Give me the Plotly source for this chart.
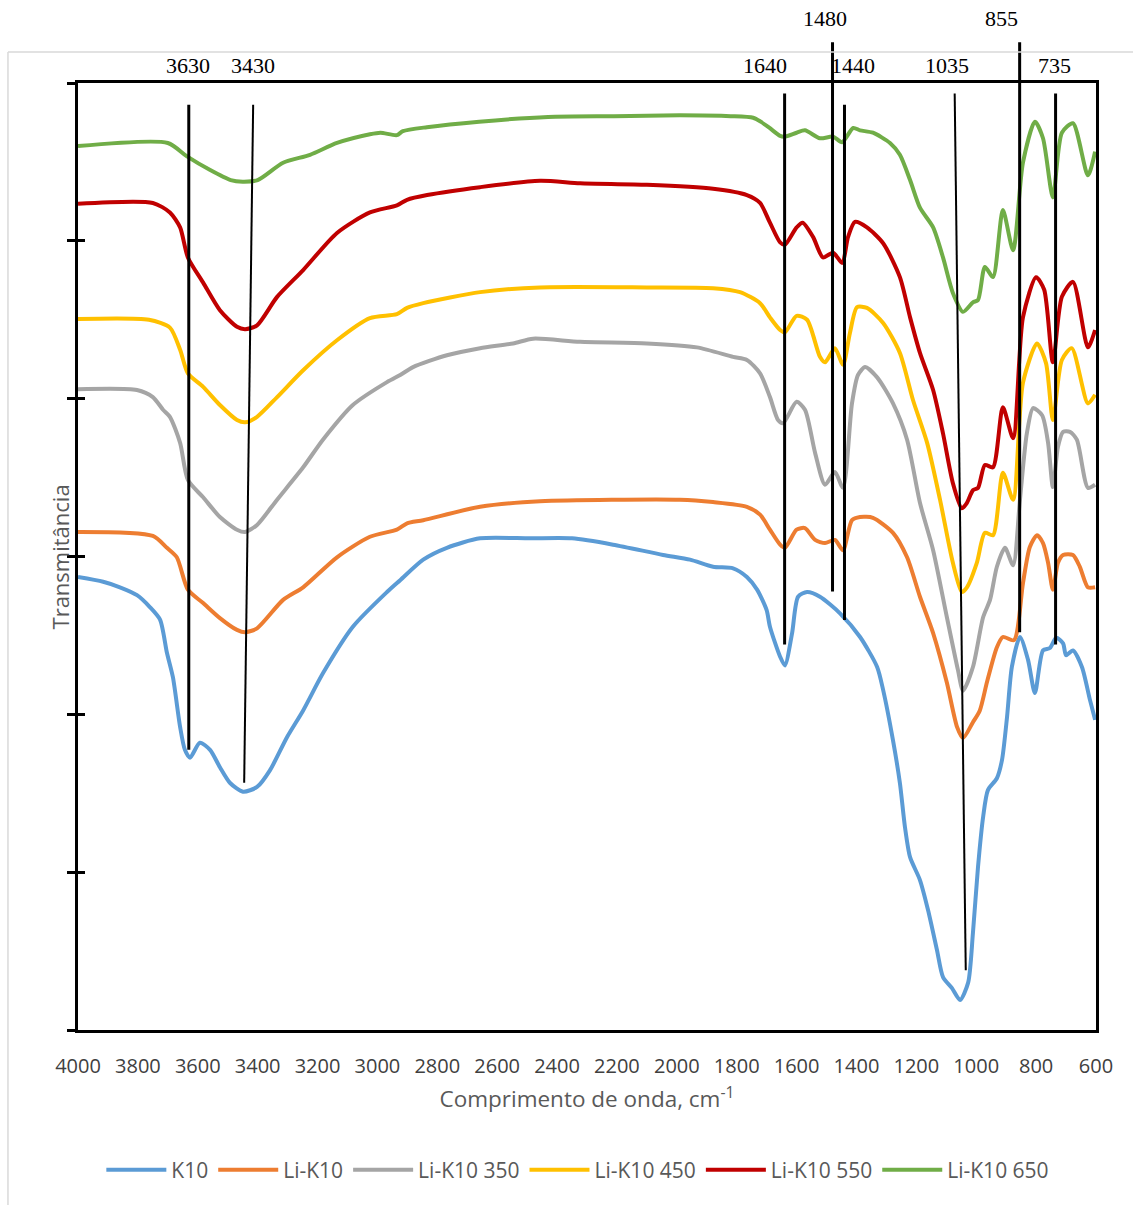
import plotly.graph_objects as go

# FTIR spectra (wavenumber in cm-1, transmittance in arbitrary offset units)
k10_wn = [4000, 3916, 3860, 3803, 3760, 3726, 3703, 3683, 3659, 3643, 3626, 3593, 3559, 3526,
          3492, 3449, 3402, 3359, 3302, 3248, 3182, 3082, 2968, 2924, 2847, 2768, 2657, 2490,
          2350, 2213, 2046, 1956, 1879, 1812, 1766, 1732, 1700, 1689, 1655, 1639, 1615, 1595,
          1565, 1522, 1455, 1388, 1331, 1311, 1278, 1255, 1238, 1221, 1188, 1161, 1131, 1111,
          1081, 1054, 1027, 1011, 994, 977, 961, 931, 914, 897, 881, 854, 827, 804, 777, 754,
          733, 710, 700, 677, 647, 620, 603]
k10_t = [57.4, 56.8, 56.1, 55.1, 53.6, 52.0, 47.8, 44.7, 38.4, 35.5, 34.5, 36.4, 35.5, 33.3,
         31.3, 30.2, 30.8, 32.9, 37.1, 40.5, 45.2, 51.1, 55.5, 57.0, 59.6, 61.1, 62.3, 62.3,
         62.3, 61.5, 60.2, 59.6, 58.7, 58.5, 57.4, 55.8, 53.2, 51.1, 47.3, 46.2, 50.3, 54.9,
         55.5, 54.9, 52.8, 49.8, 46.0, 43.1, 36.7, 31.3, 25.7, 21.9, 19.0, 15.2, 10.1, 6.7,
         5.3, 3.8, 6.0, 12.3, 20.7, 27.0, 30.4, 31.9, 34.2, 39.7, 46.0, 49.8, 46.9, 42.7, 48.1,
         48.4, 49.7, 49.0, 47.5, 48.1, 46.0, 41.8, 39.3]

li_wn = [4000, 3750, 3703, 3670, 3633, 3582, 3526, 3469, 3442, 3402, 3315, 3248, 3135, 3025,
         2935, 2901, 2847, 2657, 2457, 1990, 1879, 1766, 1722, 1689, 1655, 1639, 1600, 1572,
         1538, 1505, 1472, 1445, 1415, 1388, 1345, 1278, 1231, 1188, 1144, 1098, 1064, 1044,
         1011, 988, 964, 931, 911, 874, 844, 821, 797, 777, 760, 744, 727, 710, 677, 654, 627,
         603]
li_t = [63.1, 62.6, 61.1, 59.9, 55.8, 54.1, 52.2, 50.7, 50.4, 50.9, 54.5, 56.1, 59.9, 62.5,
        63.4, 64.2, 64.6, 66.3, 67.0, 67.2, 66.9, 66.3, 65.3, 63.4, 61.5, 61.1, 63.4, 63.6,
        62.1, 61.7, 62.1, 60.8, 64.6, 65.0, 64.9, 63.0, 59.9, 54.9, 50.3, 44.0, 38.4, 37.0,
        39.0, 40.5, 44.1, 48.5, 49.8, 49.4, 56.6, 61.2, 62.7, 61.7, 59.2, 55.8, 59.2, 60.2,
        60.2, 58.7, 56.1, 56.1]

li350_wn = [4000, 3803, 3750, 3716, 3693, 3659, 3633, 3582, 3526, 3469, 3442, 3402, 3335, 3248,
            3182, 3082, 2968, 2924, 2881, 2768, 2657, 2547, 2480, 2323, 2100, 1933, 1812, 1766,
            1722, 1689, 1662, 1645, 1600, 1572, 1538, 1505, 1472, 1445, 1415, 1395, 1371, 1331,
            1278, 1231, 1188, 1144, 1098, 1061, 1044, 1011, 977, 954, 931, 904, 877, 854, 831,
            810, 780, 760, 744, 727, 710, 687, 664, 627, 603]
li350_t = [81.2, 81.1, 80.2, 78.6, 77.7, 74.4, 69.7, 67.5, 65.0, 63.4, 63.1, 64.0, 67.2, 71.3,
           74.8, 79.2, 82.1, 83.0, 84.0, 85.5, 86.4, 87.0, 87.6, 87.2, 87.0, 86.5, 85.3, 84.9,
           83.2, 80.2, 77.3, 76.9, 79.6, 78.6, 73.1, 69.1, 70.7, 68.7, 79.4, 83.0, 84.0, 82.7,
           79.4, 74.8, 66.8, 60.8, 52.3, 45.6, 43.0, 46.0, 52.3, 54.5, 58.7, 61.1, 58.9, 67.2,
           75.6, 78.8, 77.9, 74.4, 68.8, 73.9, 75.8, 75.8, 74.8, 68.7, 69.1]

li450_wn = [4000, 3763, 3693, 3659, 3633, 3582, 3526, 3469, 3442, 3402, 3335, 3248, 3135, 3025,
            2935, 2901, 2847, 2657, 2457, 2100, 1879, 1789, 1722, 1689, 1655, 1639, 1600, 1565,
            1522, 1505, 1472, 1445, 1422, 1398, 1365, 1311, 1255, 1211, 1164, 1121, 1078, 1048,
            1031, 998, 971, 944, 911, 877, 844, 797, 767, 744, 714, 681, 627, 603]
li450_t = [90.1, 90.0, 89.0, 86.2, 83.2, 81.5, 79.2, 77.3, 77.0, 77.7, 80.2, 83.6, 87.4, 90.2,
           90.7, 91.5, 92.1, 93.5, 94.1, 94.1, 94.0, 93.5, 92.1, 90.3, 88.7, 88.4, 90.5, 90.0,
           85.3, 84.6, 86.4, 84.3, 88.3, 91.6, 91.5, 89.6, 85.8, 79.8, 74.4, 67.2, 59.2, 55.5,
           56.1, 59.2, 63.0, 62.7, 70.6, 67.2, 82.0, 87.0, 84.5, 77.3, 84.9, 86.4, 79.4, 80.5]

li550_wn = [4000, 3750, 3693, 3659, 3633, 3582, 3526, 3469, 3442, 3402, 3335, 3248, 3135, 3025,
            2935, 2901, 2834, 2657, 2457, 2323, 2100, 1879, 1766, 1722, 1689, 1655, 1639, 1600,
            1580, 1545, 1512, 1478, 1448, 1428, 1405, 1365, 1311, 1255, 1221, 1188, 1144, 1111,
            1078, 1048, 1031, 1011, 994, 971, 944, 911, 877, 844, 800, 773, 744, 714, 677, 627,
            603]
li550_t = [104.7, 104.8, 103.6, 101.7, 97.9, 94.7, 91.2, 89.1, 88.8, 89.3, 92.9, 96.3, 101.0,
           103.6, 104.5, 105.2, 105.8, 106.8, 107.6, 107.3, 107.1, 106.6, 105.8, 104.8, 102.3,
           99.8, 99.5, 101.7, 102.3, 100.5, 97.9, 98.5, 97.2, 100.5, 102.4, 101.7, 99.7, 95.4,
           90.3, 85.8, 81.1, 75.6, 69.3, 66.1, 66.8, 68.4, 68.7, 71.6, 71.3, 78.9, 75.0, 90.3,
           95.4, 93.8, 84.6, 92.9, 94.8, 86.5, 88.7]

li650_wn = [4000, 3700, 3636, 3560, 3490, 3450, 3400, 3315, 3225, 3135, 3025, 2990, 2935, 2915,
            2835, 2660, 2430, 2210, 1990, 1820, 1745, 1720, 1690, 1655, 1640, 1600, 1572, 1522,
            1478, 1448, 1411, 1388, 1345, 1288, 1255, 1221, 1188, 1144, 1111, 1078, 1044, 1011,
            994, 971, 944, 911, 877, 844, 804, 777, 744, 714, 677, 627, 603]
li650_t = [112.0, 112.4, 110.7, 109.0, 107.7, 107.5, 107.7, 109.9, 110.9, 112.4, 113.5, 113.7,
           113.4, 113.9, 114.4, 115.1, 115.7, 115.8, 115.9, 115.8, 115.6, 115.1, 114.3, 113.3,
           113.2, 113.7, 114.0, 113.0, 113.2, 112.5, 114.3, 114.0, 113.7, 112.4, 110.9, 107.7,
           104.2, 101.7, 97.9, 93.4, 91.0, 92.2, 92.5, 96.7, 95.4, 103.9, 98.8, 109.9, 115.1,
           113.0, 105.5, 113.7, 114.9, 108.3, 111.3]

series_names = ["K10", "Li-K10", "Li-K10 350", "Li-K10 450", "Li-K10 550", "Li-K10 650"]
series_wn = [k10_wn, li_wn, li350_wn, li450_wn, li550_wn, li650_wn]
series_t = [k10_t, li_t, li350_t, li450_t, li550_t, li650_t]
series_colors = ["#5B9BD5", "#ED7D31", "#A5A5A5", "#FFC000", "#C00000", "#70AD47"]

# Band assignments marked on the spectra
band_labels = [3630, 3430, 1640, 1480, 1440, 1035, 855, 735]

fig = go.Figure()
for name, wn, t, col in zip(series_names, series_wn, series_t, series_colors):
    fig.add_trace(go.Scatter(
        x=wn, y=t, name=name, mode="lines",
        line=dict(color=col, width=4, shape="spline", smoothing=0.7),
    ))

# invisible trace on the overlaid axis so the inner tick marks get drawn
fig.add_trace(go.Scatter(x=[4000], y=[0], yaxis="y2", mode="markers",
                         marker=dict(opacity=0), showlegend=False, hoverinfo="skip"))

# band marker lines: (label, x at top, x at bottom, paper y top, paper y bottom, width)
band_lines = [
    (3630, 3630, 3630, 0.977, 0.296, 3),
    (3430, 3415, 3445, 0.977, 0.261, 2),
    (1640, 1640, 1640, 0.989, 0.407, 3),
    (1480, 1480, 1480, 1.043, 0.463, 3),
    (1440, 1440, 1440, 0.977, 0.433, 3),
    (1035, 1072, 1035, 0.989, 0.063, 2),
    (855, 855, 855, 1.043, 0.420, 3),
    (735, 735, 735, 0.989, 0.407, 3),
]
shapes = []
for lab, xt, xb, yt, yb, w in band_lines:
    shapes.append(dict(type="line", xref="x", yref="paper", x0=xt, x1=xb, y0=yt, y1=yb,
                       line=dict(color="black", width=w), layer="above"))

# light frame around the chart area
shapes.append(dict(type="line", xref="paper", yref="paper", x0=-0.0688, x1=1.06,
                   y0=1.0327, y1=1.0327, line=dict(color="#d9d9d9", width=1.5)))
shapes.append(dict(type="line", xref="paper", yref="paper", x0=-0.0688, x1=-0.0688,
                   y0=1.0327, y1=-0.2, line=dict(color="#d9d9d9", width=1.5)))

# label text positions (x in cm-1, y in paper units)
label_pos = {3630: (3632, 1.018), 3430: (3416, 1.018), 1640: (1705, 1.018),
             1480: (1505, 1.068), 1440: (1412, 1.018), 1035: (1098, 1.018),
             855: (917, 1.068), 735: (737, 1.018)}
annotations = []
for lab in band_labels:
    xx, yy = label_pos[lab]
    annotations.append(dict(x=xx, y=yy, xref="x", yref="paper", text=str(lab),
                            showarrow=False, xanchor="center", yanchor="middle",
                            font=dict(family="Liberation Serif", size=22, color="black")))

# vertical axis title
annotations.append(dict(x=-0.0177, y=0.5, xref="paper", yref="paper", text="Transmitância",
                        showarrow=False, textangle=-90, xanchor="center", yanchor="middle",
                        font=dict(family="Open Sans", size=22, color="#595959")))

fig.update_layout(
    width=1133, height=1205,
    margin=dict(l=78, r=37, t=83, b=175),
    paper_bgcolor="white", plot_bgcolor="white",
    font=dict(family="Open Sans", color="#595959"),
    showlegend=True,
    legend=dict(orientation="h", x=0.491, xanchor="center", y=-0.148, yanchor="middle",
                font=dict(size=21, color="#595959"), itemwidth=60),
    xaxis=dict(range=[4000, 600], autorange=False, dtick=200, tick0=600,
               showline=True, linecolor="black", linewidth=3, mirror=True,
               showgrid=False, zeroline=False, ticks="", ticklabelstandoff=16,
               tickfont=dict(size=20, color="#404040"),
               title=dict(text="Comprimento de onda, cm<sup>-1</sup>", standoff=14,
                          font=dict(size=22.5, color="#595959"))),
    yaxis=dict(range=[0, 120], autorange=False, dtick=20, tick0=0,
               showline=True, linecolor="black", linewidth=3, mirror=True,
               showgrid=False, zeroline=False, showticklabels=False,
               ticks="outside", ticklen=8, tickwidth=3, tickcolor="black"),
    yaxis2=dict(range=[0, 120], autorange=False, dtick=20, tick0=0, overlaying="y",
                side="left", showline=False, showgrid=False, zeroline=False,
                showticklabels=False, ticks="inside", ticklen=7, tickwidth=3,
                tickcolor="black"),
    shapes=shapes,
    annotations=annotations,
)

fig.write_html("out.html")
